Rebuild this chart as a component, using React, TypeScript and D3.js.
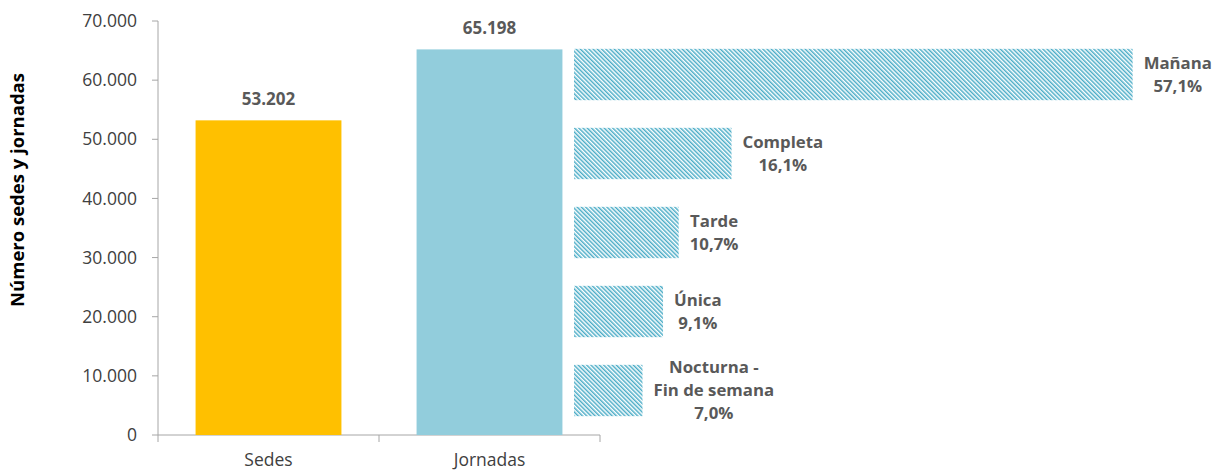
import * as d3 from "d3";
import { useEffect, useRef } from "react";

const CATEGORIES = ["Sedes", "Jornadas"];
const TOTALS = [53202, 65198];
const BAR_COLORS = ["#FFC000", "#92CDDC"];

const SHIFTS = ["Mañana", "Completa", "Tarde", "Única", "Nocturna - Fin de semana"];
const SHIFT_LINES = [["Mañana"], ["Completa"], ["Tarde"], ["Única"], ["Nocturna -", "Fin de semana"]];
const SHIFT_PCT = [57.1, 16.1, 10.7, 9.1, 7.0];

const Y_TICKS = [0, 10000, 20000, 30000, 40000, 50000, 60000, 70000];

const es = d3.formatLocale({ decimal: ",", thousands: ".", grouping: [3], currency: ["", ""] });
const fmtInt = es.format(",.0f");
const fmtPct = es.format(".1f");

const FONT = "'Open Sans', 'Noto Sans', sans-serif";

export default function App() {
  const ref = useRef<SVGSVGElement | null>(null);

  useEffect(() => {
    const width = 1212;
    const height = 471;
    const svg = d3.select(ref.current);
    svg.selectAll("*").remove();
    svg.attr("width", width).attr("height", height).attr("viewBox", `0 0 ${width} ${height}`);

    const axisX = 158;
    const y = d3.scaleLinear().domain([0, 70000]).range([435, 21]);
    const x = d3.scaleBand<string>().domain(CATEGORIES).range([axisX, 600]).paddingInner(0.34).paddingOuter(0.17);

    // diagonal hatch, lines running top-left to bottom-right
    const defs = svg.append("defs");
    const pat = defs
      .append("pattern")
      .attr("id", "hatch")
      .attr("patternUnits", "userSpaceOnUse")
      .attr("width", 3)
      .attr("height", 3)
      .attr("patternTransform", "rotate(-45)");
    pat.append("rect").attr("width", 3).attr("height", 3).attr("fill", "#ffffff");
    pat.append("rect").attr("x", 0).attr("width", 1).attr("height", 3).attr("fill", "#4bacc6");
    pat.append("rect").attr("x", 1).attr("width", 1).attr("height", 3).attr("fill", "#a8d7e4");

    // y axis
    const gy = svg.append("g");
    gy.append("line")
      .attr("x1", axisX)
      .attr("x2", axisX)
      .attr("y1", y(70000))
      .attr("y2", y(0))
      .attr("stroke", "#a6a6a6");
    Y_TICKS.forEach((t) => {
      gy.append("line")
        .attr("x1", axisX - 6)
        .attr("x2", axisX)
        .attr("y1", y(t))
        .attr("y2", y(t))
        .attr("stroke", "#a6a6a6");
      gy.append("text")
        .attr("x", axisX - 21)
        .attr("y", y(t))
        .attr("dy", "0.35em")
        .attr("text-anchor", "end")
        .attr("font-family", FONT)
        .attr("font-size", 17.5)
        .attr("fill", "#404040")
        .text(fmtInt(t));
    });

    svg
      .append("text")
      .attr("transform", `translate(24,${190}) rotate(-90)`)
      .attr("text-anchor", "middle")
      .attr("font-family", FONT)
      .attr("font-size", 18.5)
      .attr("font-weight", "bold")
      .attr("fill", "#000")
      .text("Número sedes y jornadas");

    // x axis
    const gx = svg.append("g");
    gx.append("line")
      .attr("x1", axisX)
      .attr("x2", 600)
      .attr("y1", y(0))
      .attr("y2", y(0))
      .attr("stroke", "#a6a6a6");
    const edges = [axisX, ...CATEGORIES.map((c) => (x(c) ?? 0) + x.bandwidth() + (x.step() - x.bandwidth()) / 2)];
    edges.forEach((e) => {
      gx.append("line")
        .attr("x1", e)
        .attr("x2", e)
        .attr("y1", y(0))
        .attr("y2", y(0) + 7)
        .attr("stroke", "#a6a6a6");
    });
    CATEGORIES.forEach((c) => {
      gx.append("text")
        .attr("x", (x(c) ?? 0) + x.bandwidth() / 2)
        .attr("y", 466)
        .attr("text-anchor", "middle")
        .attr("font-family", FONT)
        .attr("font-size", 17.5)
        .attr("fill", "#404040")
        .text(c);
    });

    // vertical bars
    CATEGORIES.forEach((c, i) => {
      svg
        .append("rect")
        .attr("x", x(c) ?? 0)
        .attr("y", y(TOTALS[i]))
        .attr("width", x.bandwidth())
        .attr("height", y(0) - y(TOTALS[i]))
        .attr("fill", BAR_COLORS[i]);
      svg
        .append("text")
        .attr("x", (x(c) ?? 0) + x.bandwidth() / 2)
        .attr("y", y(TOTALS[i]) - 15)
        .attr("text-anchor", "middle")
        .attr("font-family", FONT)
        .attr("font-size", 17)
        .attr("font-weight", "bold")
        .attr("fill", "#595959")
        .text(fmtInt(TOTALS[i]));
    });

    // horizontal hatched bars
    const hx = d3.scaleLinear().domain([0, 60]).range([574, 574 + 587]);
    const hy = d3.scaleBand<string>().domain(SHIFTS).range([35, 430]).paddingInner(0.35).paddingOuter(0.175);
    SHIFTS.forEach((s, i) => {
      const top = hy(s) ?? 0;
      svg
        .append("rect")
        .attr("x", hx(0))
        .attr("y", top)
        .attr("width", hx(SHIFT_PCT[i]) - hx(0))
        .attr("height", hy.bandwidth())
        .attr("fill", "url(#hatch)");

      const lines = [...SHIFT_LINES[i], `${fmtPct(SHIFT_PCT[i])}%`];
      const lh = 23;
      const cy = top + hy.bandwidth() / 2;
      const g = svg.append("g");
      lines.forEach((ln, k) => {
        g.append("text")
          .attr("x", 0)
          .attr("y", cy + (k - (lines.length - 1) / 2) * lh)
          .attr("dy", "0.35em")
          .attr("text-anchor", "middle")
          .attr("font-family", FONT)
          .attr("font-size", 16.8)
          .attr("font-weight", "bold")
          .attr("fill", "#595959")
          .text(ln);
      });
      const bb = (g.node() as SVGGElement).getBBox();
      g.attr("transform", `translate(${hx(SHIFT_PCT[i]) + 11 - bb.x},0)`);
    });
  }, []);

  return (
    <svg
      ref={ref}
      style={{ position: "absolute", left: 0, top: 0, display: "block", background: "#fff" }}
    />
  );
}
